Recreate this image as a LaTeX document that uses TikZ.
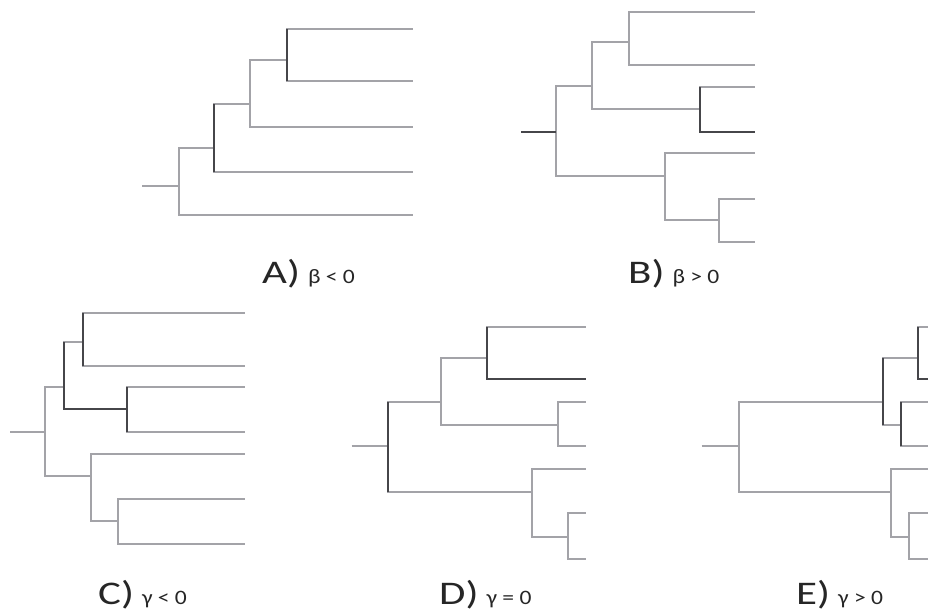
\documentclass[tikz,border=0pt]{standalone}
\usepackage{graphicx}
\usepackage{fontspec}
\setmainfont{Carlito}[Numbers=Lining]

\definecolor{branch}{RGB}{163,163,168}
\definecolor{branchdark}{RGB}{70,70,74}

\tikzset{
  edge/.style={draw=branch, line width=1.9pt},
  hot/.style={draw=branchdark, line width=1.9pt},
  caption/.style={anchor=base west, inner sep=0pt, text=black!85},
}

% panel caption: large letter, smaller condition
\newcommand{\paneltag}[2]{\scalebox{1.3}[1]{\fontsize{33}{33}\selectfont #1}\hspace{8pt}\scalebox{1.15}[1]{\fontsize{20.5}{20.5}\selectfont #2}}

\begin{document}
\begin{tikzpicture}[x=1pt, y=-1pt]
\useasboundingbox (0,0) rectangle (928,613);
\clip (0,0) rectangle (928,613);

% ---------- A: beta < 0 ----------
\coordinate (A-s)  at (142,185.7);
\coordinate (A-r)  at (179,185.7);
\coordinate (A-n2) at (214.3,147.7);
\coordinate (A-n3) at (250,104);
\coordinate (A-n4) at (287,59.7);
\coordinate (A-t1) at (413,29.3);
\coordinate (A-t2) at (413,80.7);
\coordinate (A-t3) at (413,126.7);
\coordinate (A-t4) at (413,171.7);
\coordinate (A-t5) at (413,215);
\draw[edge] (A-s) -- (A-r);
\draw[edge] (A-r) |- (A-n2);
\draw[edge] (A-r) |- (A-t5);
\draw[edge] (A-n2) |- (A-n3);
\draw[edge] (A-n2) |- (A-t4);
\draw[edge] (A-n3) |- (A-n4);
\draw[edge] (A-n3) |- (A-t3);
\draw[edge] (A-n4) |- (A-t1);
\draw[edge] (A-n4) |- (A-t2);
\draw[hot] (A-n2 |- A-n3) -- (A-n2 |- A-t4);
\draw[hot] (A-n4 |- A-t1) -- (A-n4 |- A-t2);
\node[caption] (capA) at (262,283.3) {\paneltag{A)}{β < 0}};

% ---------- B: beta > 0 ----------
\coordinate (B-s)  at (521,131.7);
\coordinate (B-r)  at (556,131.7);
\coordinate (B-a)  at (592,86.3);
\coordinate (B-b)  at (664.7,175.7);
\coordinate (B-c)  at (629,41.7);
\coordinate (B-d)  at (700,108.7);
\coordinate (B-e)  at (719.3,220.3);
\coordinate (B-t1) at (755,12.3);
\coordinate (B-t2) at (755,64.7);
\coordinate (B-t3) at (755,86.7);
\coordinate (B-t4) at (755,131.7);
\coordinate (B-t5) at (755,153.3);
\coordinate (B-t6) at (755,198.7);
\coordinate (B-t7) at (755,242.3);
\draw[edge] (B-r) |- (B-a);
\draw[edge] (B-r) |- (B-b);
\draw[edge] (B-a) |- (B-c);
\draw[edge] (B-a) |- (B-d);
\draw[edge] (B-c) |- (B-t1);
\draw[edge] (B-c) |- (B-t2);
\draw[edge] (B-d) |- (B-t3);
\draw[edge] (B-d) |- (B-t4);
\draw[edge] (B-b) |- (B-t5);
\draw[edge] (B-b) |- (B-e);
\draw[edge] (B-e) |- (B-t6);
\draw[edge] (B-e) |- (B-t7);
\draw[hot] (B-s) -- (B-r);
\draw[hot] (B-d |- B-t3) -- (B-d |- B-t4) -- (B-t4);
\node[caption] (capB) at (628,283.3) {\paneltag{B)}{β > 0}};

% ---------- C: gamma < 0 ----------
\coordinate (C-s)  at (10,432);
\coordinate (C-r)  at (45,432);
\coordinate (C-a)  at (64.3,387.3);
\coordinate (C-b)  at (91,475.7);
\coordinate (C-c)  at (82.7,342.3);
\coordinate (C-d)  at (127,409);
\coordinate (C-e)  at (118.3,521.3);
\coordinate (C-t1) at (245,312.7);
\coordinate (C-t2) at (245,366.3);
\coordinate (C-t3) at (245,387.3);
\coordinate (C-t4) at (245,432);
\coordinate (C-t5) at (245,454.3);
\coordinate (C-t6) at (245,499.3);
\coordinate (C-t7) at (245,544);
\draw[edge] (C-s) -- (C-r);
\draw[edge] (C-r) |- (C-a);
\draw[edge] (C-r) |- (C-b);
\draw[edge] (C-a) |- (C-c);
\draw[edge] (C-a) |- (C-d);
\draw[edge] (C-c) |- (C-t1);
\draw[edge] (C-c) |- (C-t2);
\draw[edge] (C-d) |- (C-t3);
\draw[edge] (C-d) |- (C-t4);
\draw[edge] (C-b) |- (C-t5);
\draw[edge] (C-b) |- (C-e);
\draw[edge] (C-e) |- (C-t6);
\draw[edge] (C-e) |- (C-t7);
\draw[hot] (C-a |- C-c) -- (C-a |- C-d) -- (C-d);
\draw[hot] (C-c |- C-t1) -- (C-c |- C-t2);
\draw[hot] (C-d |- C-t3) -- (C-d |- C-t4);
\node[caption] (capC) at (98,604.3) {\paneltag{C)}{γ < 0}};

% ---------- D: gamma = 0 ----------
\coordinate (D-s)  at (351.7,446);
\coordinate (D-r)  at (388.3,446);
\coordinate (D-a)  at (441.3,402.3);
\coordinate (D-b)  at (531.7,491.7);
\coordinate (D-c)  at (486.7,357.7);
\coordinate (D-d)  at (558.3,425);
\coordinate (D-e)  at (568.3,537.3);
\coordinate (D-t1) at (586,327.3);
\coordinate (D-t2) at (586,379.3);
\coordinate (D-t3) at (586,402.3);
\coordinate (D-t4) at (586,446);
\coordinate (D-t5) at (586,469.3);
\coordinate (D-t6) at (586,513.3);
\coordinate (D-t7) at (586,558.7);
\draw[edge] (D-s) -- (D-r);
\draw[edge] (D-r) |- (D-a);
\draw[edge] (D-r) |- (D-b);
\draw[edge] (D-a) |- (D-c);
\draw[edge] (D-a) |- (D-d);
\draw[edge] (D-c) |- (D-t1);
\draw[edge] (D-c) |- (D-t2);
\draw[edge] (D-d) |- (D-t3);
\draw[edge] (D-d) |- (D-t4);
\draw[edge] (D-b) |- (D-t5);
\draw[edge] (D-b) |- (D-e);
\draw[edge] (D-e) |- (D-t6);
\draw[edge] (D-e) |- (D-t7);
\draw[hot] (D-r |- D-a) -- (D-r |- D-b);
\draw[hot] (D-c |- D-t1) -- (D-c |- D-t2) -- (D-t2);
\node[caption] (capD) at (439,604.3) {\paneltag{D)}{γ = 0}};

% ---------- E: gamma > 0 ----------
\coordinate (E-s)  at (701.7,446);
\coordinate (E-r)  at (739.3,446);
\coordinate (E-a)  at (882.7,402.3);
\coordinate (E-b)  at (891,491.7);
\coordinate (E-c)  at (918.3,357.7);
\coordinate (E-d)  at (900.7,425);
\coordinate (E-e)  at (909,537.3);
\coordinate (E-t1) at (930,327.3);
\coordinate (E-t2) at (930,379.3);
\coordinate (E-t3) at (930,402.3);
\coordinate (E-t4) at (930,446);
\coordinate (E-t5) at (930,469.3);
\coordinate (E-t6) at (930,513.3);
\coordinate (E-t7) at (930,558.7);
\draw[edge] (E-s) -- (E-r);
\draw[edge] (E-r) |- (E-a);
\draw[edge] (E-r) |- (E-b);
\draw[edge] (E-a) |- (E-c);
\draw[edge] (E-a) |- (E-d);
\draw[edge] (E-c) |- (E-t1);
\draw[edge] (E-c) |- (E-t2);
\draw[edge] (E-d) |- (E-t3);
\draw[edge] (E-d) |- (E-t4);
\draw[edge] (E-b) |- (E-t5);
\draw[edge] (E-b) |- (E-e);
\draw[edge] (E-e) |- (E-t6);
\draw[edge] (E-e) |- (E-t7);
\draw[hot] (E-a |- E-c) -- (E-a |- E-d);
\draw[hot] (E-c |- E-t1) -- (E-c |- E-t2) -- (E-t2);
\draw[hot] (E-d |- E-t3) -- (E-d |- E-t4);
\node[caption] (capE) at (796,604.3) {\paneltag{E)}{γ > 0}};
\end{tikzpicture}
\end{document}
